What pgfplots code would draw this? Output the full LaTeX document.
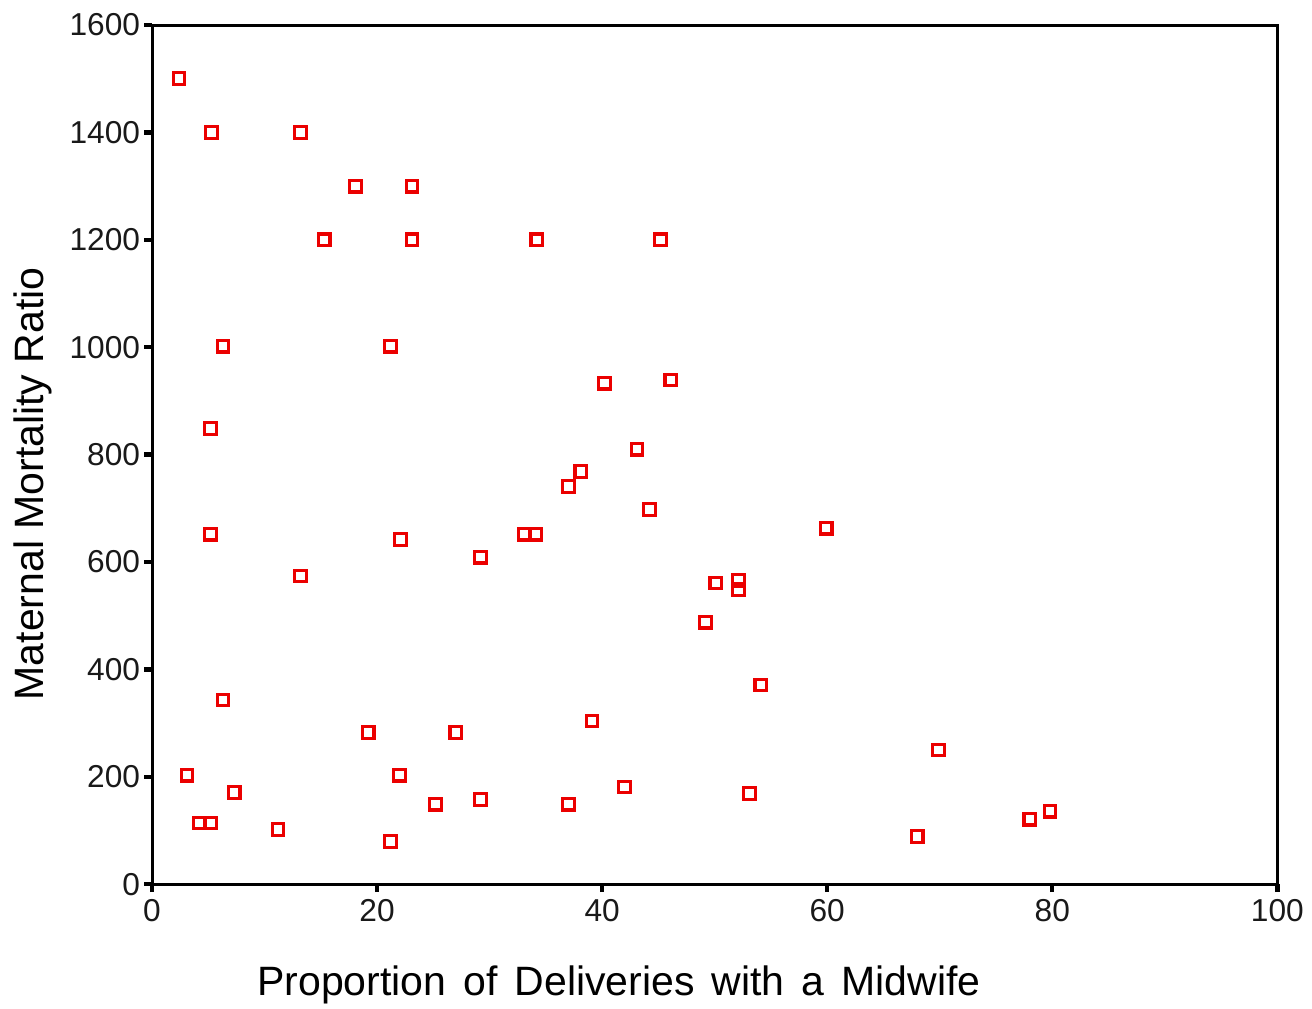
\documentclass[border=0pt]{standalone}
\usepackage{fontspec}
\setmainfont{Liberation Sans}
\newfontfamily\xlabfont[WordSpace=1.5]{Liberation Sans}
\usepackage{pgfplots}
\pgfplotsset{compat=1.18}
\begin{document}
\begin{tikzpicture}
\useasboundingbox (-45.6pt,-37.2pt) rectangle (347.9pt,265.2pt);
\begin{axis}[
  at={(0,0)}, anchor=south west,
  scale only axis,
  width=337.5pt, height=257.7pt,
  xmin=0, xmax=100, ymin=0, ymax=1600,
  xtick={0,20,40,60,80,100},
  ytick={0,200,400,600,800,1000,1200,1400,1600},
  tick pos=left, tick align=outside,
  major tick length=2.4pt,
  every tick/.style={black, line width=1.3pt},
  axis line style={line width=0.9pt},
  /pgf/number format/assume math mode=true,
  /pgf/number format/1000 sep={},
  ticklabel style={font=\fontsize{9.5}{11}\selectfont, text=black!90},
  yticklabel style={inner sep=1pt},
  xticklabel style={inner sep=2pt},
  xlabel={Proportion of Deliveries with a Midwife},
  ylabel={Maternal Mortality Ratio},
  xlabel style={font=\xlabfont\fontsize{12.3}{14}\selectfont, at={(axis description cs:0.415,0)}, anchor=center, yshift=-30.3pt},
  ylabel style={font=\fontsize{12.3}{14}\selectfont, at={(axis description cs:0,0.466)}, anchor=center, yshift=35.7pt},
]
\addplot[only marks, mark=square, mark size=1.75pt, draw=red, mark options={line width=0.95pt, draw=red!92!black, fill=white}] coordinates {
(2.4,1500) (5.3,1400) (13.2,1400) (18.1,1300) (23.1,1300)
(15.3,1200) (23.1,1200) (34.2,1200) (45.2,1200)
(6.3,1002) (21.2,1002) (40.2,933) (46.1,939)
(5.2,849) (43.1,810) (38.1,769) (37.0,741) (44.2,698)
(5.2,652) (22.1,642) (33.1,652) (34.1,652) (59.9,663)
(13.2,574) (29.2,609) (50.1,561) (52.1,566) (52.1,549)
(49.2,488) (54.1,371) (6.3,343) (39.1,304) (19.2,283) (27.0,283)
(69.9,250) (3.1,203) (22.0,203) (7.3,171) (42.0,181) (53.1,169)
(25.2,149) (29.2,158) (37.0,149) (4.2,114) (5.2,114) (11.2,102)
(21.2,80) (68.0,89) (78.0,121) (79.8,136)
};
\end{axis}
\end{tikzpicture}
\end{document}
